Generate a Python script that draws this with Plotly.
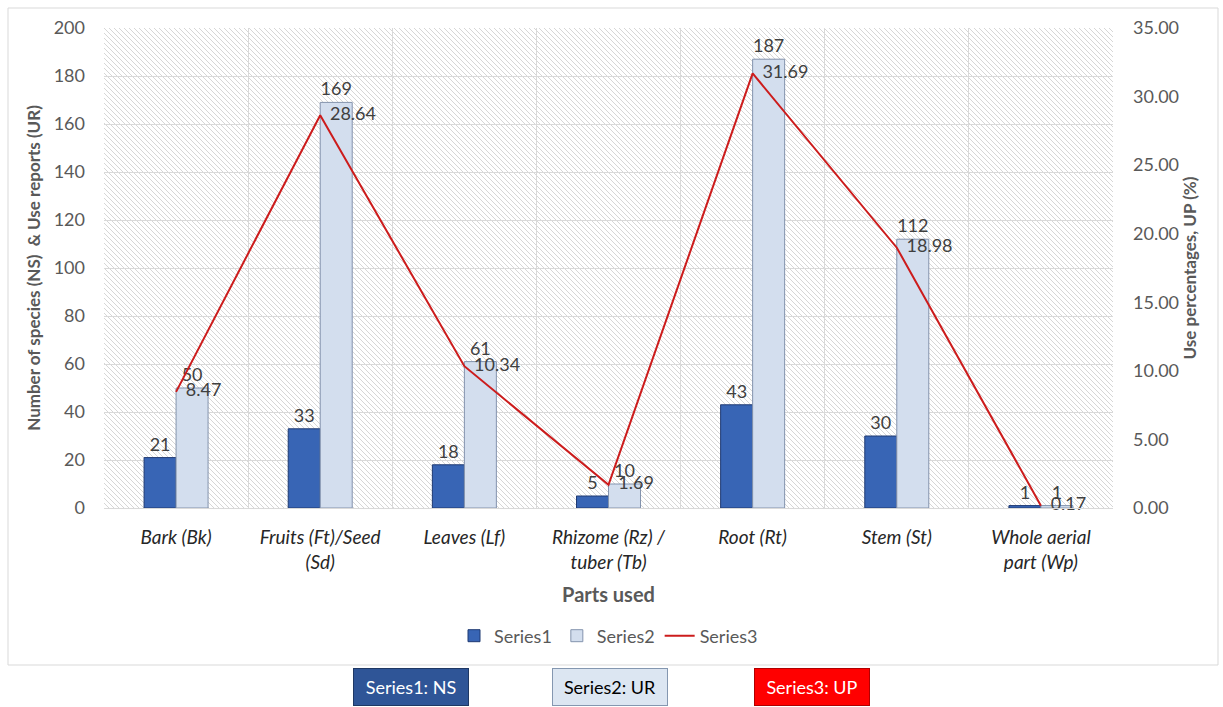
import base64
import plotly.graph_objects as go

# Parts of the plant used, with species counts, use reports and use percentages
parts = [
    "Bark (Bk)",
    "Fruits (Ft)/Seed<br>(Sd)",
    "Leaves (Lf)",
    "Rhizome (Rz) /<br>tuber (Tb)",
    "Root (Rt)",
    "Stem (St)",
    "Whole aerial<br>part (Wp)",
]
ns_values = [21, 33, 18, 5, 43, 30, 1]
ur_values = [50, 169, 61, 10, 187, 112, 1]
up_values = [8.47, 28.64, 10.34, 1.69, 31.69, 18.98, 0.17]

W, H = 1223, 707
ML, MR, MT, MB = 104, 110, 28, 199
PW, PH = W - ML - MR, H - MT - MB

FONT = "Lato"
GREY = "#595959"
LABEL = "#404040"


def px_x(p):
    return (p - ML) / PW


def px_y(p):
    return (H - MB - p) / PH


# Diagonal hatch used as the plot-area background
hatch_svg = (
    f'<svg xmlns="http://www.w3.org/2000/svg" width="{PW}" height="{PH}">'
    '<defs><pattern id="h" width="5" height="5" patternUnits="userSpaceOnUse">'
    '<path d="M-1,-1 L6,6 M-1,4 L1,6 M4,-1 L6,1" stroke="#d6d6d6" stroke-width="1"/>'
    '</pattern></defs>'
    f'<rect width="{PW}" height="{PH}" fill="#ffffff"/>'
    f'<rect width="{PW}" height="{PH}" fill="url(#h)"/></svg>'
)
hatch_uri = "data:image/svg+xml;base64," + base64.b64encode(hatch_svg.encode()).decode()

fig = go.Figure()

fig.add_trace(go.Bar(
    name="Series1", x=parts, y=ns_values,
    marker=dict(color="#3865B5", line=dict(color="#1F3A73", width=1)),
    text=[str(v) for v in ns_values], textposition="outside",
    textfont=dict(family=FONT, size=18, color=LABEL),
    constraintext="none", cliponaxis=False,
))
fig.add_trace(go.Bar(
    name="Series2", x=parts, y=ur_values,
    marker=dict(color="#D3DEEE", line=dict(color="#8393AD", width=1)),
    text=[str(v) for v in ur_values], textposition="outside",
    textfont=dict(family=FONT, size=18, color=LABEL),
    constraintext="none", cliponaxis=False,
))
fig.add_trace(go.Scatter(
    name="Series3", x=parts, y=up_values, yaxis="y2",
    mode="lines+markers+text", line=dict(color="#CC1C1C", width=2),
    marker=dict(size=14, color="rgba(0,0,0,0)"),
    text=[f"{v:.2f}" for v in up_values], textposition="middle right",
    textfont=dict(family=FONT, size=18, color=LABEL),
    cliponaxis=False,
))

fig.update_layout(
    width=W, height=H,
    margin=dict(l=ML, r=MR, t=MT, b=MB),
    paper_bgcolor="white",
    plot_bgcolor="rgba(0,0,0,0)",
    font=dict(family=FONT, color=GREY),
    barmode="group", bargap=0.556, bargroupgap=0,
    xaxis=dict(
        type="category", tickson="boundaries",
        showgrid=True, gridcolor="#d9d9d9", gridwidth=1,
        showline=True, linecolor="#d9d9d9",
        ticks="", ticklabelstandoff=12,
        tickfont=dict(family=FONT, size=19, color="#262626", style="italic"),
        title=dict(text="<b>Parts used</b>", font=dict(family=FONT, size=20, color=GREY), standoff=16),
    ),
    yaxis=dict(
        range=[0, 200], dtick=20, showgrid=True, gridcolor="#d9d9d9",
        zeroline=False, ticks="", ticklabelstandoff=18,
        tickfont=dict(family=FONT, size=18, color=GREY),
        title=dict(text="<b>Number of species (NS)  & Use reports (UR)</b>",
                   font=dict(family=FONT, size=17, color=GREY), standoff=8),
    ),
    yaxis2=dict(
        range=[0, 35], dtick=5, tickformat=".2f", overlaying="y", side="right",
        showgrid=False, zeroline=False, ticks="", ticklabelstandoff=19,
        tickfont=dict(family=FONT, size=18, color=GREY),
        title=dict(text="<b>Use percentages, UP (%)</b>",
                   font=dict(family=FONT, size=17, color=GREY), standoff=6),
    ),
    legend=dict(
        orientation="h", x=0.5, xanchor="center", y=px_y(636), yanchor="middle",
        font=dict(family=FONT, size=18, color=GREY), traceorder="normal",
        itemwidth=30,
    ),
    images=[dict(
        source=hatch_uri, xref="paper", yref="paper", x=0, y=1,
        sizex=1, sizey=1, sizing="stretch", xanchor="left", yanchor="top",
        layer="below",
    )],
    shapes=[dict(
        type="rect", xref="paper", yref="paper",
        x0=px_x(8), x1=px_x(1218), y0=px_y(665), y1=px_y(8),
        line=dict(color="#d9d9d9", width=1), fillcolor="rgba(0,0,0,0)", layer="below",
    )],
)

# Key boxes explaining the series under the chart frame
keys = [
    ("Series1: NS", 411, "#2F5597", "#1F3864", "white"),
    ("Series2: UR", 610, "#DCE6F2", "#8497B0", "black"),
    ("Series3: UP", 812, "#FF0000", "#B00000", "white"),
]
for text, cx, bg, border, fc in keys:
    fig.add_annotation(
        text=text, xref="paper", yref="paper", x=px_x(cx), y=px_y(687),
        xanchor="center", yanchor="middle", showarrow=False,
        font=dict(family=FONT, size=18, color=fc),
        bgcolor=bg, bordercolor=border, borderwidth=1, borderpad=4,
        width=106, height=28,
    )

fig.write_html("out.html")
